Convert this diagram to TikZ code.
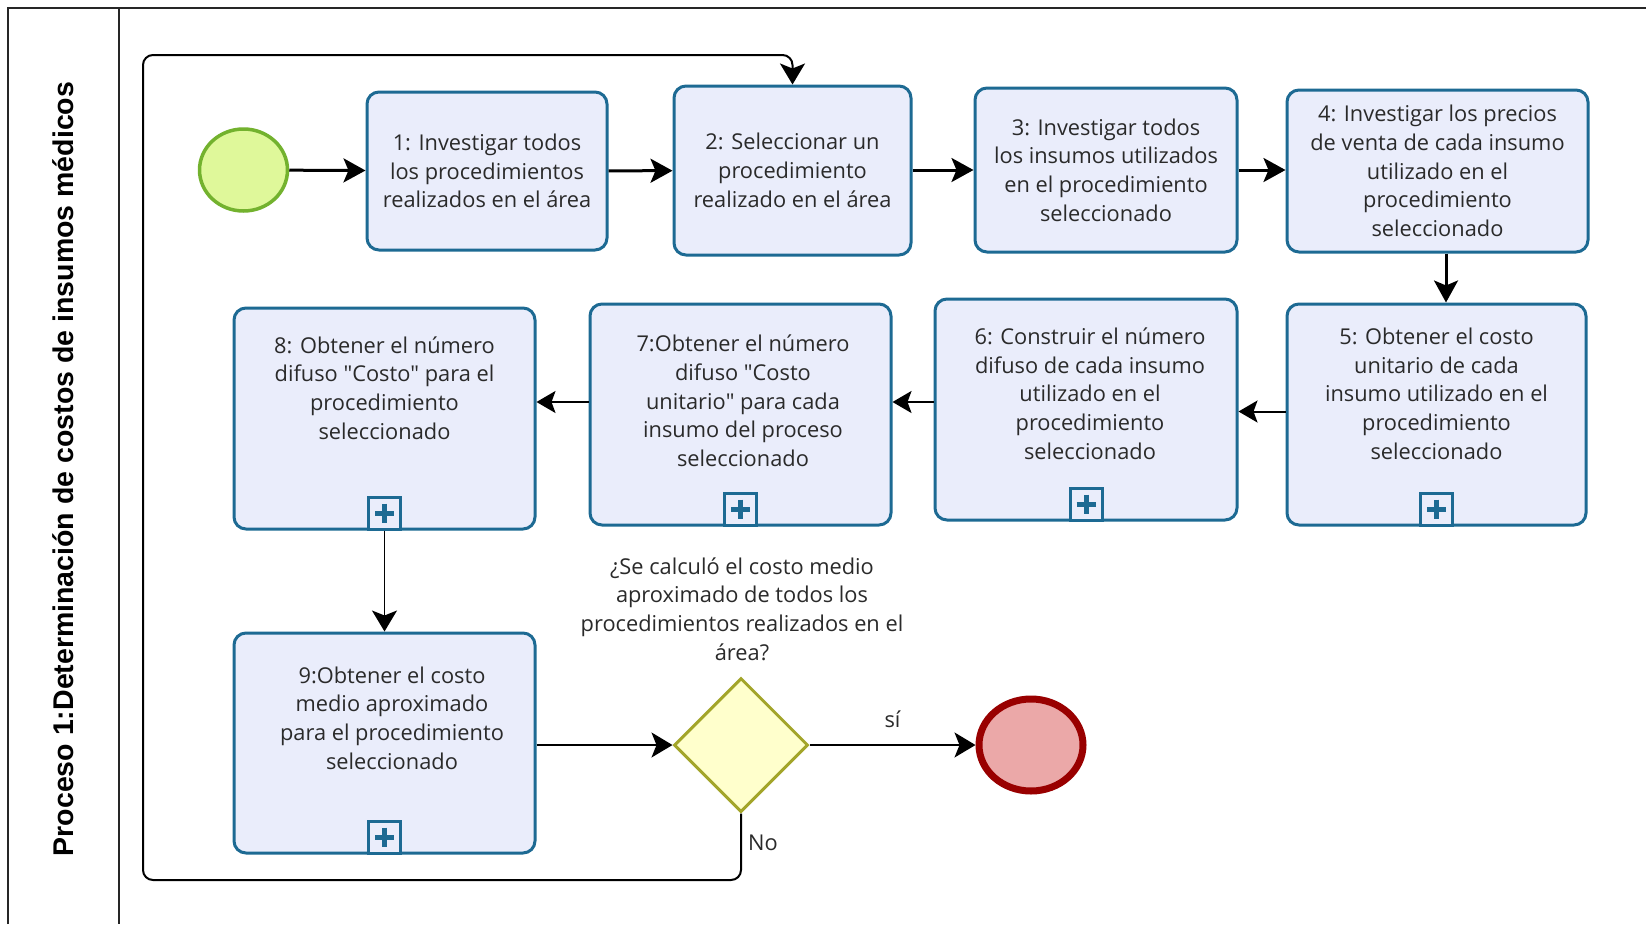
\documentclass[tikz,border=0pt]{standalone}
\usepackage{fontspec}
\setmainfont{Open Sans}
\newfontfamily\titlefont{Liberation Sans}
\usetikzlibrary{arrows.meta,shapes.geometric}
\definecolor{boxfill}{HTML}{EAEDFB}
\definecolor{boxline}{HTML}{1D6A93}
\definecolor{txt}{HTML}{2A2A2A}
\definecolor{startfill}{HTML}{DFF89A}
\definecolor{startline}{HTML}{73B22E}
\definecolor{gwfill}{HTML}{FFFFCC}
\definecolor{gwline}{HTML}{A3A52A}
\definecolor{endfill}{HTML}{EBA8A8}
\definecolor{endline}{HTML}{990000}
\tikzset{
  task/.style={draw=boxline, fill=boxfill, line width=3pt, rounded corners=12pt,
    text=txt, align=center, font=\fontsize{21.8}{28.7}\selectfont, inner sep=0pt},
  btext/.style={text=txt, align=center, font=\fontsize{21.8}{28.7}\selectfont, inner sep=0pt},
  marker/.style={draw=boxline, fill=boxfill, line width=3pt, minimum size=32pt, inner sep=0pt, anchor=south},
  thick flow/.style={draw=black, line width=3pt, -{Stealth[length=22pt,width=24pt,inset=5pt]}},
  mid flow/.style={draw=black, line width=2pt, -{Stealth[length=19pt,width=22pt,inset=4pt]}},
  thin flow/.style={draw=black, line width=1.6pt, -{Stealth[length=21pt,width=25pt,inset=5pt]}},
  pool/.style={draw=black!85, line width=1.6pt}
}
\newcommand{\plusmark}[1]{%
  \node[marker] (#1m) at (#1.south) {};
  \draw[boxline, line width=5pt] ([yshift=-8pt]#1m.north) -- ([yshift=8pt]#1m.south);
  \draw[boxline, line width=5pt] ([xshift=8pt]#1m.west) -- ([xshift=-8pt]#1m.east);
}
\newcommand{\dq}{\textquotedbl}
\begin{document}
\begin{tikzpicture}[x=1pt,y=-1pt]
\useasboundingbox[fill=white] (0,0) rectangle (1646,924);
% pool
\draw[pool] (8,924) -- (8,8) -- (1646,8);
\draw[pool] (119,8) -- (119,924);
\node[rotate=90, font=\titlefont\bfseries\fontsize{28.5}{32}\selectfont, text=black] (title) at (63,469) {Proceso 1:Determinación de costos de insumos médicos};

% start
\node[ellipse, draw=startline, fill=startfill, line width=3.5pt, minimum width=88pt, minimum height=82pt, inner sep=0pt] (start) at (243.5,170) {};

% top row
\node[task, minimum width=240pt, minimum height=158pt] (b1) at (487,171) {1: Investigar todos\\los procedimientos\\realizados en el área};
\node[task, minimum width=237pt, minimum height=169pt] (b2) at (792.5,170.5) {2: Seleccionar un\\procedimiento\\realizado en el área};
\node[task, minimum width=262pt, minimum height=164pt] (b3) at (1106,170) {3: Investigar todos\\los insumos utilizados\\en el procedimiento\\seleccionado};
\node[task, minimum width=301pt, minimum height=162pt] (b4) at (1437.5,171) {4: Investigar los precios\\de venta de cada insumo\\utilizado en el\\procedimiento\\seleccionado};

% middle row
\node[task, minimum width=299pt, minimum height=221pt] (b5) at (1436.5,414.5) {};
\node[task, minimum width=302pt, minimum height=221pt] (b6) at (1086,409.5) {};
\node[task, minimum width=301pt, minimum height=221pt] (b7) at (740.5,414.5) {};
\node[task, minimum width=301pt, minimum height=221pt] (b8) at (384.5,418.5) {};
\node[task, minimum width=301pt, minimum height=220pt] (b9) at (384.5,743) {};

\node[btext] (t5) at (1436.5,393.6) {5: Obtener el costo\\unitario de cada\\insumo utilizado en el\\procedimiento\\seleccionado};
\node[btext] (t6) at (1090,393.6) {6: Construir el número\\difuso de cada insumo\\utilizado en el\\procedimiento\\seleccionado};
\node[btext] (t7) at (743,401) {7:Obtener el número\\difuso \dq Costo\\unitario\dq\ para cada\\insumo del proceso\\seleccionado};
\node[btext] (t8) at (384.5,388) {8: Obtener el número\\difuso \dq Costo\dq\ para el\\procedimiento\\seleccionado};
\node[btext] (t9) at (392,718) {9:Obtener el costo\\medio aproximado\\para el procedimiento\\seleccionado};

\plusmark{b5}
\plusmark{b6}
\plusmark{b7}
\plusmark{b8}
\plusmark{b9}

% gateway and end
\node[diamond, draw=gwline, fill=gwfill, line width=3pt, minimum width=134pt, minimum height=134pt, inner sep=0pt] (gw) at (741,745) {};
\node[btext] (q) at (742,609) {¿Se calculó el costo medio\\aproximado de todos los\\procedimientos realizados en el\\área?};
\node[ellipse, draw=endline, fill=endfill, line width=7pt, minimum width=104pt, minimum height=92pt, inner sep=0pt] (end) at (1031,745) {};

% flows
\draw[thick flow] (start) -- (b1);
\draw[thick flow] (b1) -- (b2);
\draw[thick flow] (b2.east |- 0,170) -- (b3.west |- 0,170);
\draw[thick flow] (b3.east |- 0,170) -- (b4.west |- 0,170);
\draw[thick flow] (b4.south -| 1446,0) -- (b5.north -| 1446,0);
\draw[mid flow] (b5.west |- 0,411.5) -- (b6.east |- 0,411.5);
\draw[mid flow] (b6.west |- 0,402) -- (b7.east |- 0,402);
\draw[mid flow] (b7.west |- 0,402) -- (b8.east |- 0,402);
\draw[thin flow] (b8m.south) -- (b9.north);
\draw[thin flow] (b9.east |- gw) -- (gw.west);
\draw[thin flow] (gw.east) -- node[above=16pt, btext] (si) {sí} (end.west);
\coordinate (l1) at (741,880);
\coordinate (l2) at (143,880);
\coordinate (l3) at (143,55);
\coordinate (l4) at (792.5,55);
\draw[thin flow, line width=2pt, rounded corners=10pt] (gw.south) -- (l1) -- (l2) -- (l3) -- (l4) -- (b2.north);
\node[btext, anchor=west] (no) at (748,843) {No};
\end{tikzpicture}
\end{document}
